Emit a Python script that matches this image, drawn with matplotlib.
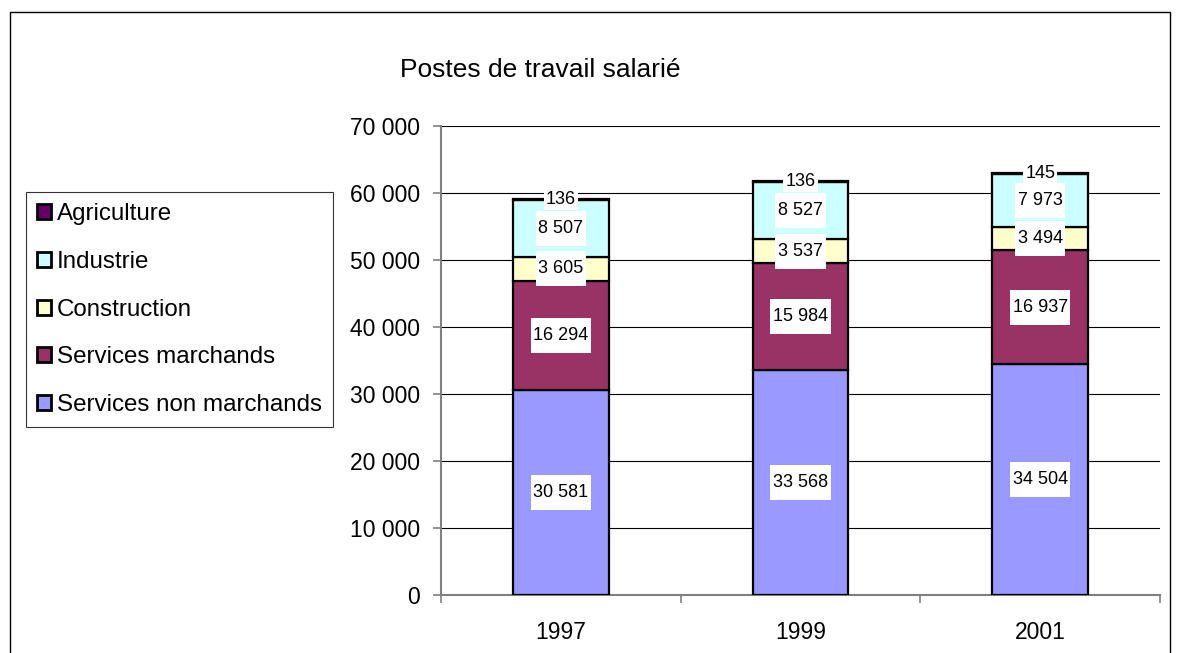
import matplotlib
matplotlib.use("Agg")
import matplotlib.pyplot as plt
from matplotlib.patches import Rectangle
from matplotlib.path import Path
import numpy as np

plt.rcParams['font.family'] = ['Liberation Sans', 'DejaVu Sans']

years = ["1997", "1999", "2001"]
services_non_marchands = [30581, 33568, 34504]
services_marchands = [16294, 15984, 16937]
construction = [3605, 3537, 3494]
industrie = [8507, 8527, 7973]
agriculture = [136, 136, 145]

series = [
    ("Services non marchands", services_non_marchands, "#9999FF"),
    ("Services marchands", services_marchands, "#993366"),
    ("Construction", construction, "#FFFFCC"),
    ("Industrie", industrie, "#CCFFFF"),
    ("Agriculture", agriculture, "#660066"),
]


def fmt(v):
    return f"{v:,}".replace(",", " ")


def label_box(x0, y0, width, height, mutation_size):
    px = 0.15 * mutation_size
    py = 0.5 * mutation_size
    x0 -= px
    y0 -= py
    x1 = x0 + width + 2 * px
    y1 = y0 + height + 2 * py
    return Path([(x0, y0), (x1, y0), (x1, y1), (x0, y1), (x0, y0)], closed=True)


fig = plt.figure(figsize=(11.82, 6.53), dpi=100)
fig.patches.append(Rectangle((10/1182, -0.01), (1170-10)/1182, 1.01-12/653,
                             transform=fig.transFigure, fill=False,
                             edgecolor="black", linewidth=1))
ax = fig.add_axes([441/1182, 1-595/653, (1160-441)/1182, (595-126)/653])

x = np.arange(len(years))
bottom = np.zeros(len(years))
handles = []
for name, vals, color in series:
    vals = np.array(vals, dtype=float)
    b = ax.bar(x, vals, width=0.4, bottom=bottom, color=color,
               edgecolor="black", linewidth=1.6, label=name, zorder=3)
    handles.append(b)
    for xi, v, bt in zip(x, vals, bottom):
        ax.text(xi, bt + v / 2, fmt(int(v)), ha="center", va="center",
                fontsize=13, zorder=5,
                bbox=dict(facecolor="white", edgecolor="none",
                          boxstyle=label_box if v > 1000 else "square,pad=0.12"))
    bottom += vals

ax.set_ylim(0, 70000)
ax.set_xlim(-0.5, 2.5)
ax.set_yticks(np.arange(0, 70001, 10000))
ax.set_yticklabels([fmt(v) for v in range(0, 70001, 10000)], fontsize=16.5)
ax.set_xticks(x)
ax.set_xticklabels(years, fontsize=16.5)
ax.tick_params(axis="x", which="major", length=0, pad=19)
ax.set_xticks([-0.5, 0.5, 1.5, 2.5], minor=True)
ax.tick_params(axis="x", which="minor", length=6, color="#808080", width=1.2)
ax.tick_params(axis="y", length=6, color="#808080", width=1.2, pad=9)
ax.yaxis.grid(True, color="black", linewidth=0.8, zorder=0)
ax.set_axisbelow(True)
for s in ["top", "right"]:
    ax.spines[s].set_visible(False)
for s in ["left", "bottom"]:
    ax.spines[s].set_color("#808080")
    ax.spines[s].set_linewidth(1.5)

fig.text(400/1182, 1-70/653, "Postes de travail salarié", fontsize=19,
         ha="left", va="center")

leg = fig.legend(handles[::-1], [s[0] for s in series][::-1],
                 loc="upper left", bbox_to_anchor=(26/1182, 1-192/653),
                 fontsize=17.4, frameon=True, fancybox=False, edgecolor="black",
                 handlelength=0.58, handleheight=0.58, handletextpad=0.25,
                 labelspacing=1.07, borderpad=0.45, borderaxespad=0)
leg.get_frame().set_linewidth(0.8)
for h in leg.legend_handles:
    h.set_linewidth(2)

fig.savefig("out.png", dpi=100)
